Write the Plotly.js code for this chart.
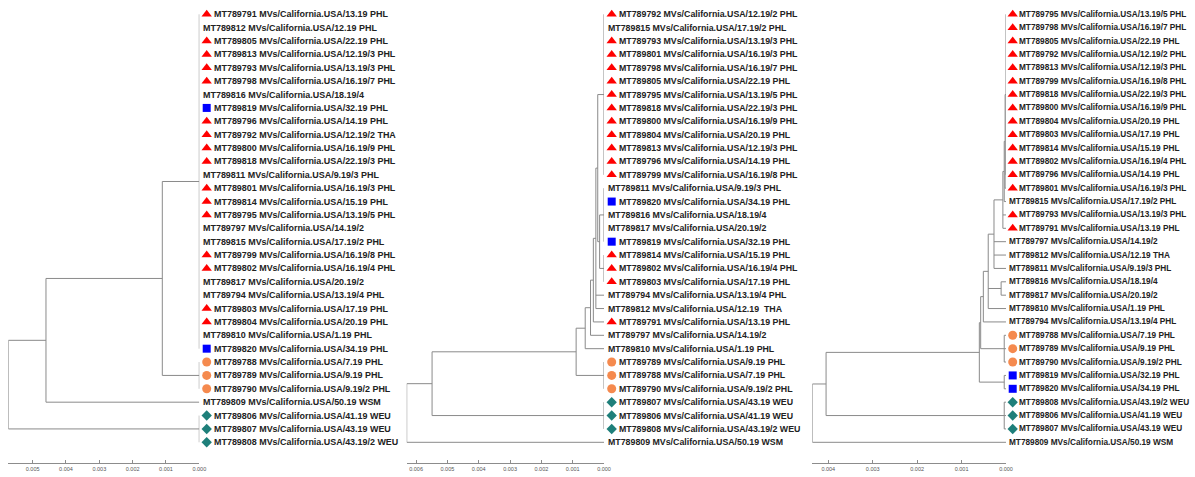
<!DOCTYPE html>
<html><head><meta charset="utf-8">
<script src="https://cdn.plot.ly/plotly-3.0.1.min.js"></script>
<style>html,body{margin:0;padding:0;background:#fff}</style>
</head><body><div id="chart" style="width:1195px;height:477px"></div>
<script>
// ---------------- DATA ----------------
// Panel 1 leaves, top to bottom
const p1Labels = [
"MT789791 MVs/California.USA/13.19 PHL","MT789812 MVs/California.USA/12.19 PHL","MT789805 MVs/California.USA/22.19 PHL",
"MT789813 MVs/California.USA/12.19/3 PHL","MT789793 MVs/California.USA/13.19/3 PHL","MT789798 MVs/California.USA/16.19/7 PHL",
"MT789816 MVs/California.USA/18.19/4","MT789819 MVs/California.USA/32.19 PHL","MT789796 MVs/California.USA/14.19 PHL",
"MT789792 MVs/California.USA/12.19/2 THA","MT789800 MVs/California.USA/16.19/9 PHL","MT789818 MVs/California.USA/22.19/3 PHL",
"MT789811 MVs/California.USA/9.19/3 PHL","MT789801 MVs/California.USA/16.19/3 PHL","MT789814 MVs/California.USA/15.19 PHL",
"MT789795 MVs/California.USA/13.19/5 PHL","MT789797 MVs/California.USA/14.19/2","MT789815 MVs/California.USA/17.19/2 PHL",
"MT789799 MVs/California.USA/16.19/8 PHL","MT789802 MVs/California.USA/16.19/4 PHL","MT789817 MVs/California.USA/20.19/2",
"MT789794 MVs/California.USA/13.19/4 PHL","MT789803 MVs/California.USA/17.19 PHL","MT789804 MVs/California.USA/20.19 PHL",
"MT789810 MVs/California.USA/1.19 PHL","MT789820 MVs/California.USA/34.19 PHL","MT789788 MVs/California.USA/7.19 PHL",
"MT789789 MVs/California.USA/9.19 PHL","MT789790 MVs/California.USA/9.19/2 PHL","MT789809 MVs/California.USA/50.19 WSM",
"MT789806 MVs/California.USA/41.19 WEU","MT789807 MVs/California.USA/43.19 WEU","MT789808 MVs/California.USA/43.19/2 WEU"];
const p1Marks = ["T","","T","T","T","T","","S","T","T","T","T","","T","T","T","","","T","T","","","T","T","","S","C","C","C","","D","D","D"];
const p1NodeDist   = [0.00573, 0.0046, 0.00111, 0, 0, 0];
const p1NodeParent = [-1, 0, 1, 2, 2, 0];
const p1LeafParent = [3,3,3,3,3,3,3,3,3,3,3,3,3,3,3,3,3,3,3,3,3,3,3,3,3,3, 4,4,4, 1, 5,5,5];
const p1Ticks = [0.005, 0.004, 0.003, 0.002, 0.001, 0.000];

// Panel 2
const p2Labels = [
"MT789792 MVs/California.USA/12.19/2 PHL","MT789815 MVs/California.USA/17.19/2 PHL","MT789793 MVs/California.USA/13.19/3 PHL",
"MT789801 MVs/California.USA/16.19/3 PHL","MT789798 MVs/California.USA/16.19/7 PHL","MT789805 MVs/California.USA/22.19 PHL",
"MT789795 MVs/California.USA/13.19/5 PHL","MT789818 MVs/California.USA/22.19/3 PHL","MT789800 MVs/California.USA/16.19/9 PHL",
"MT789804 MVs/California.USA/20.19 PHL","MT789813 MVs/California.USA/12.19/3 PHL","MT789796 MVs/California.USA/14.19 PHL",
"MT789799 MVs/California.USA/16.19/8 PHL","MT789811 MVs/California.USA/9.19/3 PHL","MT789820 MVs/California.USA/34.19 PHL",
"MT789816 MVs/California.USA/18.19/4","MT789817 MVs/California.USA/20.19/2","MT789819 MVs/California.USA/32.19 PHL",
"MT789814 MVs/California.USA/15.19 PHL","MT789802 MVs/California.USA/16.19/4 PHL","MT789803 MVs/California.USA/17.19 PHL",
"MT789794 MVs/California.USA/13.19/4 PHL","MT789812 MVs/California.USA/12.19  THA","MT789791 MVs/California.USA/13.19 PHL",
"MT789797 MVs/California.USA/14.19/2","MT789810 MVs/California.USA/1.19 PHL","MT789789 MVs/California.USA/9.19 PHL",
"MT789788 MVs/California.USA/7.19 PHL","MT789790 MVs/California.USA/9.19/2 PHL","MT789807 MVs/California.USA/43.19 WEU",
"MT789806 MVs/California.USA/41.19 WEU","MT789808 MVs/California.USA/43.19/2 WEU","MT789809 MVs/California.USA/50.19 WSM"];
const p2Marks = ["T","","T","T","T","T","T","T","T","T","T","T","T","","S","","","S","T","T","T","","","T","","","C","C","C","D","D","D",""];
const p2NodeDist   = [0.0063, 0.00549, 0.00089, 0.0006, 0.00043, 0.00034, 0.00026, 0.0002, 0.00014, 0, 0, 0, 0, 0];
const p2NodeParent = [-1, 0, 1, 2, 3, 4, 5, 6, 7, 7, 8, 8, 2, 1];
const p2LeafParent = [9,9,9,9,9,9,9,9,9,9,9,9,9, 10,10,10,10,10, 11,11,11, 6,6, 5, 4, 3, 12,12,12, 13,13,13, 0];
const p2Ticks = [0.006, 0.005, 0.004, 0.003, 0.002, 0.001, 0.000];

// Panel 3
const p3Labels = [
"MT789795 MVs/California.USA/13.19/5 PHL","MT789798 MVs/California.USA/16.19/7 PHL","MT789805 MVs/California.USA/22.19 PHL",
"MT789792 MVs/California.USA/12.19/2 PHL","MT789813 MVs/California.USA/12.19/3 PHL","MT789799 MVs/California.USA/16.19/8 PHL",
"MT789818 MVs/California.USA/22.19/3 PHL","MT789800 MVs/California.USA/16.19/9 PHL","MT789804 MVs/California.USA/20.19 PHL",
"MT789803 MVs/California.USA/17.19 PHL","MT789814 MVs/California.USA/15.19 PHL","MT789802 MVs/California.USA/16.19/4 PHL",
"MT789796 MVs/California.USA/14.19 PHL","MT789801 MVs/California.USA/16.19/3 PHL","MT789815 MVs/California.USA/17.19/2 PHL",
"MT789793 MVs/California.USA/13.19/3 PHL","MT789791 MVs/California.USA/13.19 PHL","MT789797 MVs/California.USA/14.19/2",
"MT789812 MVs/California.USA/12.19 THA","MT789811 MVs/California.USA/9.19/3 PHL","MT789816 MVs/California.USA/18.19/4",
"MT789817 MVs/California.USA/20.19/2","MT789810 MVs/California.USA/1.19 PHL","MT789794 MVs/California.USA/13.19/4 PHL",
"MT789788 MVs/California.USA/7.19 PHL","MT789789 MVs/California.USA/9.19 PHL","MT789790 MVs/California.USA/9.19/2 PHL",
"MT789819 MVs/California.USA/32.19 PHL","MT789820 MVs/California.USA/34.19 PHL","MT789808 MVs/California.USA/43.19/2 WEU",
"MT789806 MVs/California.USA/41.19 WEU","MT789807 MVs/California.USA/43.19 WEU","MT789809 MVs/California.USA/50.19 WSM"];
const p3Marks = ["T","T","T","T","T","T","T","T","T","T","T","T","T","T","","T","T","","","","","","","","C","C","C","S","S","D","D","D",""];
const p3NodeDist   = [0.00436, 0.00405, 0.0006, 0.00057, 0.00051, 0.0004, 0.00027, 0.00007, 0.00004, 0.00002, 0, 0.00011, 0.00004, 0.00004, 0.00004];
const p3NodeParent = [-1, 0, 1, 2, 3, 4, 5, 6, 7, 8, 9, 5, 3, 2, 1];
const p3LeafParent = [10,10,10,10,10,10,10,10,10,10,10,10,10, 9, 8, 7,7, 6,6,6, 11,11, 5, 4, 12,12,12, 13,13, 14,14,14, 0];
const p3Ticks = [0.004, 0.003, 0.002, 0.001, 0.000];

// ---------------- LAYOUT HELPERS ----------------
const W = 1195, H = 477;
const ROW0 = 14.3, ROWH = 13.375;
const yTop = 1 + (0 - ROW0) / ROWH, yBot = 1 + (H - ROW0) / ROWH;
const AXIS_Y = 1 - 463.3 / H;
const markStyle = {
  T: {symbol: 'triangle-up', color: '#ff0000', size: 9},
  S: {symbol: 'square', color: '#0000ff', size: 8},
  C: {symbol: 'circle', color: '#f58a4e', size: 9},
  D: {symbol: 'diamond', color: '#1e7f7a', size: 8}
};

function treeSegments(nodeDist, nodeParent, leafParent) {
  const n = nodeDist.length;
  const kids = Array.from({length: n}, () => []);
  leafParent.forEach((p, i) => kids[p].push({leaf: true, i}));
  nodeParent.forEach((p, i) => { if (p >= 0) kids[p].push({leaf: false, i}); });
  const ny = new Array(n);
  const yOf = c => c.leaf ? c.i + 1 : nodeY(c.i);
  function nodeY(k) {
    if (ny[k] === undefined) {
      const ys = kids[k].map(yOf);
      ny[k] = (Math.min(...ys) + Math.max(...ys)) / 2;
    }
    return ny[k];
  }
  const xs = [], ys = [];
  for (let k = 0; k < n; k++) {
    const cy = kids[k].map(yOf);
    xs.push(nodeDist[k], nodeDist[k], null);
    ys.push(Math.min(...cy), Math.max(...cy), null);
    kids[k].forEach(c => {
      const cx = c.leaf ? 0 : nodeDist[c.i];
      xs.push(nodeDist[k], cx, null);
      ys.push(yOf(c), yOf(c), null);
    });
  }
  return {xs, ys};
}

const panels = [
  {labels: p1Labels, marks: p1Marks, dist: p1NodeDist, par: p1NodeParent, leaf: p1LeafParent, ticks: p1Ticks,
   x0: 8.3, xz: 199.3, lblEnd: 400, mOff: 7.4, tOff: 12.5, uOff: 1.5, fs: 8.95},
  {labels: p2Labels, marks: p2Marks, dist: p2NodeDist, par: p2NodeParent, leaf: p2LeafParent, ticks: p2Ticks,
   x0: 406.7, xz: 604, lblEnd: 805, mOff: 7.7, tOff: 12.8, uOff: 1.8, fs: 8.8},
  {labels: p3Labels, marks: p3Marks, dist: p3NodeDist, par: p3NodeParent, leaf: p3LeafParent, ticks: p3Ticks,
   x0: 812.3, xz: 1006, lblEnd: 1195, mOff: 6.7, tOff: 11.2, uOff: 1.2, fs: 8.25}
];

const traces = [], annotations = [];
const layout = {
  width: W, height: H, margin: {l: 0, r: 0, t: 0, b: 0},
  paper_bgcolor: '#ffffff', plot_bgcolor: 'rgba(0,0,0,0)', showlegend: false,
  yaxis: {range: [yBot, yTop], domain: [0, 1], visible: false, fixedrange: true},
  annotations
};

panels.forEach((p, i) => {
  const tx = i === 0 ? 'x' : 'x' + (i + 1);
  const lx = 'x' + (i + 4);
  const tk = i === 0 ? 'xaxis' : 'xaxis' + (i + 1);
  const lk = 'xaxis' + (i + 4);
  layout[tk] = {
    domain: [p.x0 / W, p.xz / W], range: [p.dist[0], 0], anchor: 'free', position: AXIS_Y,
    showline: true, linecolor: '#8c8c8c', linewidth: 1, showgrid: false, zeroline: false,
    tickmode: 'array', tickvals: p.ticks, ticktext: p.ticks.map(v => v.toFixed(3)),
    ticks: 'inside', ticklen: 3, tickcolor: '#8c8c8c',
    tickfont: {size: 5.5, color: '#555555', family: 'Liberation Sans, Arial, sans-serif'}
  };
  layout[lk] = {domain: [p.xz / W, p.lblEnd / W], range: [0, p.lblEnd - p.xz], anchor: 'y', visible: false};

  const seg = treeSegments(p.dist, p.par, p.leaf);
  traces.push({type: 'scatter', mode: 'lines', x: seg.xs, y: seg.ys, xaxis: tx, yaxis: 'y',
    line: {color: '#8a8a8a', width: 1}, hoverinfo: 'skip', cliponaxis: false});

  Object.keys(markStyle).forEach(m => {
    const ys = [];
    p.marks.forEach((mk, j) => { if (mk === m) ys.push(j + 1); });
    if (!ys.length) return;
    traces.push({type: 'scatter', mode: 'markers', x: ys.map(() => p.mOff), y: ys, xaxis: lx, yaxis: 'y',
      marker: {symbol: markStyle[m].symbol, color: markStyle[m].color, size: markStyle[m].size, line: {width: 0}},
      cliponaxis: false, hoverinfo: 'skip'});
  });

  p.labels.forEach((t, j) => {
    annotations.push({xref: lx, yref: 'y', x: p.marks[j] ? p.tOff : p.uOff, y: j + 1, text: t,
      showarrow: false, xanchor: 'left', yanchor: 'middle',
      font: {family: 'Liberation Sans, Arial, sans-serif', size: p.fs, color: '#222222', weight: 'bold'}});
  });
});

Plotly.newPlot('chart', traces, layout, {staticPlot: true, displayModeBar: false});
</script>
</body></html>
